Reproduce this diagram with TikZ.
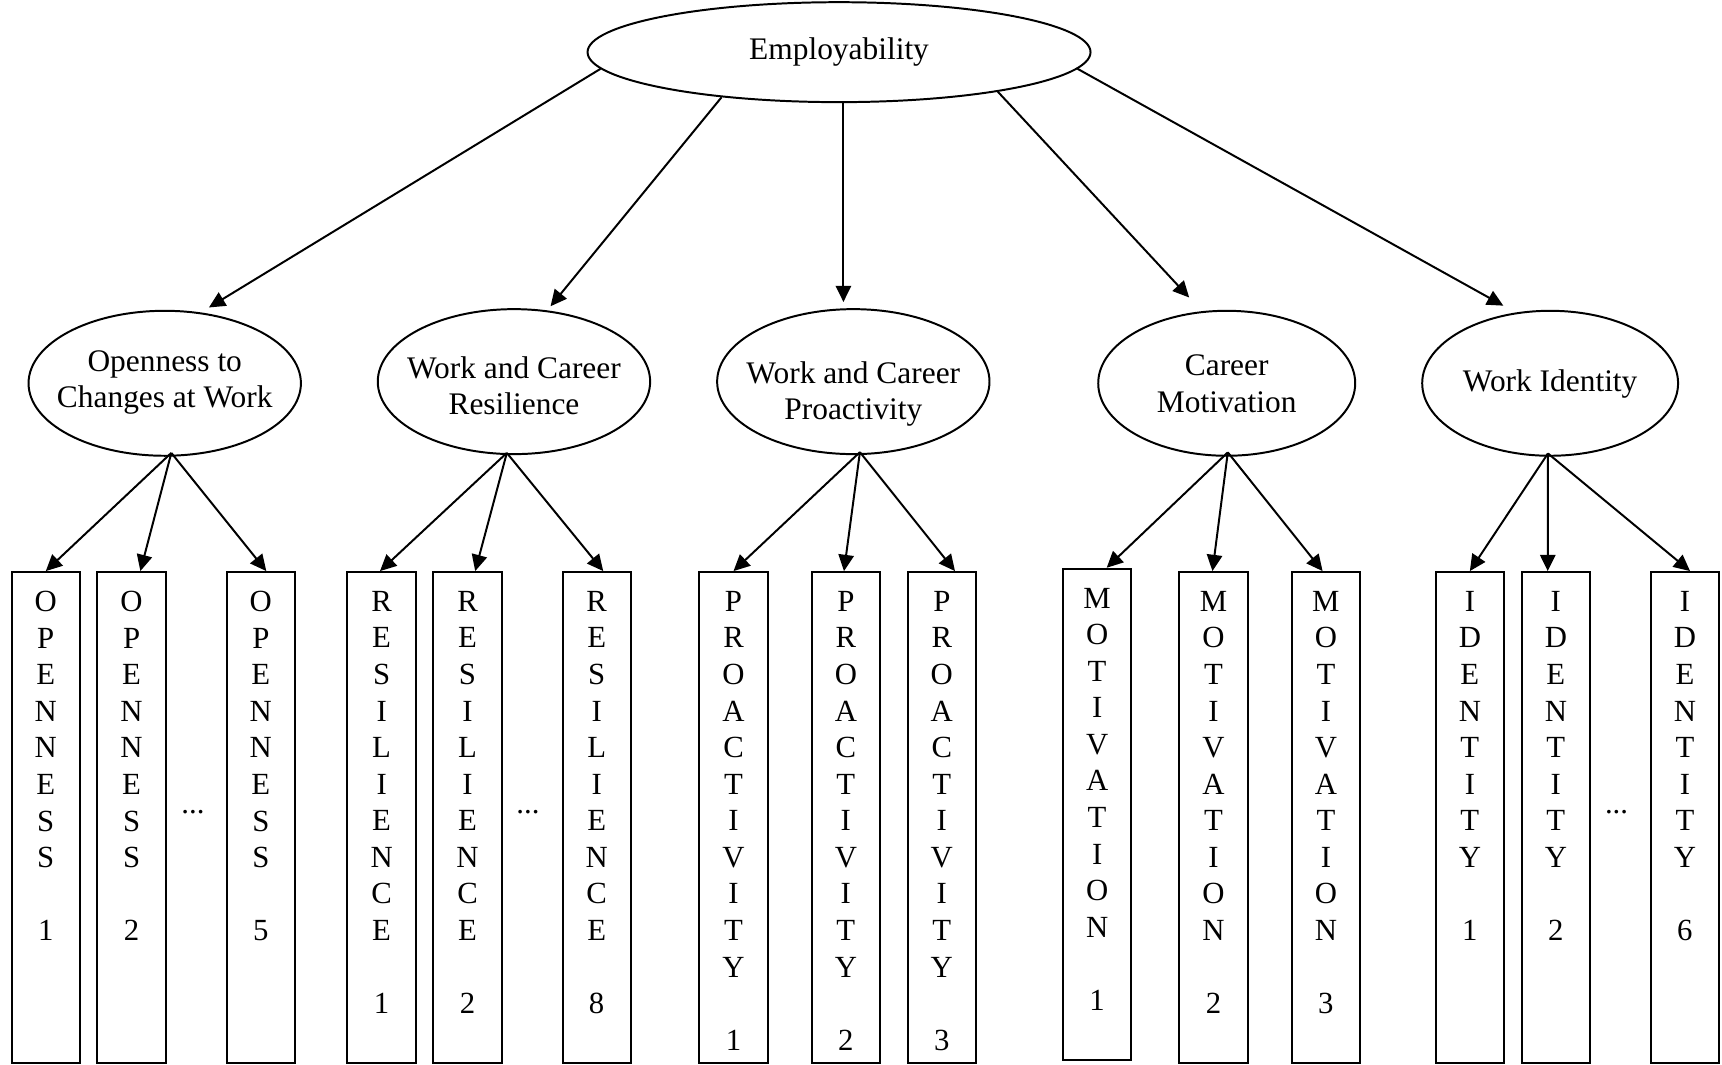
\documentclass[tikz,border=0pt]{standalone}
\usepackage{fontspec}
\setmainfont{Liberation Serif}
\usetikzlibrary{shapes.geometric,arrows.meta,calc}

\begin{document}
\begin{tikzpicture}[x=0.5pt,y=0.5pt,yscale=-1,xscale=1,
  latent/.style={draw,ellipse,line width=0.9pt,inner sep=0pt},
  ftext/.style={align=center,inner sep=0pt,font=\fontsize{14.3}{16.5}\selectfont},
  indicator/.style={draw,rectangle,anchor=north,line width=0.9pt,minimum width=31.1pt,minimum height=223.5pt,inner sep=0pt},
  itext/.style={anchor=north,inner xsep=0pt,inner ysep=9pt,align=center,font=\fontsize{14}{16.65}\selectfont},
  dots/.style={anchor=base,inner sep=0pt,font=\fontsize{14}{16.65}\selectfont},
  arr/.style={line width=0.9pt,-{Triangle[length=7.4pt,width=7pt]}}
]
\useasboundingbox (0,0) rectangle (1568,969);

%Shape: Ellipse (top)
\node[latent,minimum width=229pt,minimum height=45.5pt,font=\fontsize{14.3}{16.5}\selectfont] (emp) at (764,47.5) {Employability};

%Shape: Ellipses (factors)
\node[latent,minimum width=124pt,minimum height=66pt] (open) at (150,349) {};
\node[latent,minimum width=124pt,minimum height=66pt] (resil) at (468,347.5) {};
\node[latent,minimum width=124pt,minimum height=66pt] (proact) at (777,347.5) {};
\node[latent,minimum width=117pt,minimum height=66pt] (motiv) at (1117,349) {};
\node[latent,minimum width=116.5pt,minimum height=66pt] (ident) at (1411.5,349) {};

% Text Node
\node[ftext] (open-t) at (150,348) {Openness to\\Changes at Work};
% Text Node
\node[ftext] (resil-t) at (468,351.5) {Work and Career\\Resilience};
% Text Node
\node[ftext] (proact-t) at (777,358.5) {Work and Career\\Proactivity};
% Text Node
\node[ftext] (motiv-t) at (1117,349.5) {Career\\Motivation};
% Text Node
\node[ftext] (ident-t) at (1411.5,350) {Work Identity};

%Shape: Rectangles (items)
\node[indicator] (open1) at (41.7,520) {};
\node[indicator] (open2) at (119.8,520) {};
\node[indicator] (open5) at (237.5,520) {};
\node[indicator] (resil1) at (347.5,520) {};
\node[indicator] (resil2) at (425.7,520) {};
\node[indicator] (resil8) at (543.3,520) {};
\node[indicator] (proact1) at (667.9,520) {};
\node[indicator] (proact2) at (770.2,520) {};
\node[indicator] (proact3) at (857.6,520) {};
\node[indicator] (motiv1) at (999,517) {};
\node[indicator] (motiv2) at (1105,520) {};
\node[indicator] (motiv3) at (1207.3,520) {};
\node[indicator] (ident1) at (1338.4,520) {};
\node[indicator] (ident2) at (1416.7,520) {};
\node[indicator] (ident6) at (1534.2,520) {};

% Text Node (item labels)
\node[itext] (open1-t) at (open1.north) {O\\P\\E\\N\\N\\E\\S\\S\\\mbox{}\\1};
\node[itext] (open2-t) at (open2.north) {O\\P\\E\\N\\N\\E\\S\\S\\\mbox{}\\2};
\node[itext] (open5-t) at (open5.north) {O\\P\\E\\N\\N\\E\\S\\S\\\mbox{}\\5};
\node[itext] (resil1-t) at (resil1.north) {R\\E\\S\\I\\L\\I\\E\\N\\C\\E\\\mbox{}\\1};
\node[itext] (resil2-t) at (resil2.north) {R\\E\\S\\I\\L\\I\\E\\N\\C\\E\\\mbox{}\\2};
\node[itext] (resil8-t) at (resil8.north) {R\\E\\S\\I\\L\\I\\E\\N\\C\\E\\\mbox{}\\8};
\node[itext] (proact1-t) at (proact1.north) {P\\R\\O\\A\\C\\T\\I\\V\\I\\T\\Y\\\mbox{}\\1};
\node[itext] (proact2-t) at (proact2.north) {P\\R\\O\\A\\C\\T\\I\\V\\I\\T\\Y\\\mbox{}\\2};
\node[itext] (proact3-t) at (proact3.north) {P\\R\\O\\A\\C\\T\\I\\V\\I\\T\\Y\\\mbox{}\\3};
\node[itext] (motiv1-t) at (motiv1.north) {M\\O\\T\\I\\V\\A\\T\\I\\O\\N\\\mbox{}\\1};
\node[itext] (motiv2-t) at (motiv2.north) {M\\O\\T\\I\\V\\A\\T\\I\\O\\N\\\mbox{}\\2};
\node[itext] (motiv3-t) at (motiv3.north) {M\\O\\T\\I\\V\\A\\T\\I\\O\\N\\\mbox{}\\3};
\node[itext] (ident1-t) at (ident1.north) {I\\D\\E\\N\\T\\I\\T\\Y\\\mbox{}\\1};
\node[itext] (ident2-t) at (ident2.north) {I\\D\\E\\N\\T\\I\\T\\Y\\\mbox{}\\2};
\node[itext] (ident6-t) at (ident6.north) {I\\D\\E\\N\\T\\I\\T\\Y\\\mbox{}\\6};

% Text Node (dots)
\node[dots] (open-d) at (175.7,741) {...};
\node[dots] (resil-d) at (480.7,741) {...};
\node[dots] (ident-d) at (1472,741) {...};

%Straight Lines (top level)
\draw[arr,shorten >=4.3pt] (emp.184.3) -- (open.63.1);
\draw[arr,shorten >=2.4pt] (emp.201.6) -- (resil.65.1);
\coordinate (emp-v) at ($(emp.south)+(4,0)$);
\draw[arr,shorten >=2.8pt] (emp-v) -- (emp-v |- proact.north);
\draw[arr,shorten >=8.5pt] (emp.346) -- (motiv.109.7);
\draw[arr,shorten >=6.4pt] (emp.356) -- (ident.116.6);

%Straight Lines (items)
\coordinate (open-o) at ($(open.south)+(6,-3.5)$);
\draw[arr] (open-o) -- (open1.north);
\draw[arr] (open-o) -- ($(open2.north)+(8,0)$);
\draw[arr] (open-o) -- ($(open5.north)+(5,0)$);

\coordinate (resil-o) at ($(resil.south)+(-6.5,-2)$);
\draw[arr] (resil-o) -- ($(resil1.north)+(-1.5,0)$);
\draw[arr] (resil-o) -- ($(resil2.north)+(7,0)$);
\draw[arr] (resil-o) -- ($(resil8.north)+(6,0)$);

\coordinate (proact-o) at ($(proact.south)+(6,-2.7)$);
\draw[arr] (proact-o) -- (proact1.north);
\draw[arr] (proact-o) -- ($(proact2.north)+(-1.7,0)$);
\draw[arr] (proact-o) -- ($(proact3.north)+(12,0)$);

\coordinate (motiv-o) at ($(motiv.south)+(1,-4)$);
\draw[arr] (motiv-o) -- ($(motiv1.north)+(8.7,0)$);
\draw[arr] (motiv-o) -- ($(motiv2.north)+(-1,0)$);
\draw[arr] (motiv-o) -- ($(motiv3.north)+(-3,0)$);

\coordinate (ident-o) at ($(ident.south)+(-2,-3)$);
\draw[arr] (ident-o) -- (ident1.north);
\draw[arr] (ident-o) -- ($(ident2.north)+(-7.4,0)$);
\draw[arr] (ident-o) -- ($(ident6.north)+(4.7,0)$);

\end{tikzpicture}
\end{document}
